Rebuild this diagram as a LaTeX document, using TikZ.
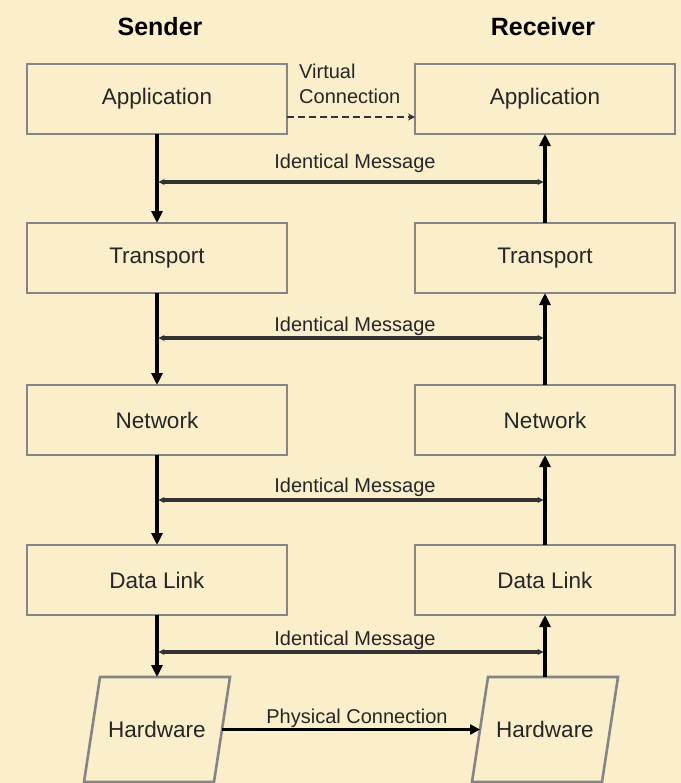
\documentclass[tikz,border=0pt]{standalone}
\usepackage{fontspec}
\setmainfont{Liberation Sans}
\usetikzlibrary{arrows.meta}
\definecolor{parch}{HTML}{FBEECB}
\definecolor{boxline}{HTML}{858585}
\definecolor{txt}{HTML}{262626}
\definecolor{msgline}{HTML}{333333}

\begin{document}
\begin{tikzpicture}[x=1bp,y=-1bp,
  layer/.style={draw=boxline, line width=2.6bp, minimum width=260bp, minimum height=70bp,
    inner sep=0pt, outer sep=0pt, font=\fontsize{22.5bp}{27bp}\selectfont, text=txt},
  hwbox/.style={minimum width=130bp, minimum height=105bp, inner sep=0pt, outer sep=0pt,
    font=\fontsize{22.5bp}{27bp}\selectfont, text=txt},
  hwedge/.style={draw=boxline, line width=2.6bp, line join=miter},
  flow/.style={line width=3.4bp, draw=black, -{Triangle[length=12bp,width=11bp]}},
  msg/.style={draw=msgline, line width=3.2bp,
    {Stealth[length=6bp,width=6bp]}-{Stealth[length=6bp,width=6bp]}},
  virt/.style={draw=msgline, line width=2.6bp, dash pattern=on 7bp off 4bp,
    -{Stealth[length=7bp,width=7bp]}},
  phys/.style={draw=black, line width=3.2bp, -{Triangle[length=10bp,width=10bp]}},
  lbl/.style={font=\fontsize{20bp}{25bp}\selectfont, text=txt, inner sep=0pt},
  head/.style={font=\bfseries\fontsize{25bp}{30bp}\selectfont, text=black, inner sep=0pt}]

% page and background
\useasboundingbox (0,0) rectangle (681,783);
\fill[parch] (0,0) rectangle (681,783);

% column headings
\node[head] (hs) at (160,27) {Sender};
\node[head] (hr) at (543,27) {Receiver};

% sender stack
\node[layer] (sApp) at (157,99)  {Application};
\node[layer] (sTr)  at (157,258) {Transport};
\node[layer] (sNet) at (157,420) {Network};
\node[layer] (sDL)  at (157,580) {Data Link};
\node[hwbox] (sHw)  at (157,729.5) {Hardware};

% receiver stack
\node[layer] (rApp) at (545,99)  {Application};
\node[layer] (rTr)  at (545,258) {Transport};
\node[layer] (rNet) at (545,420) {Network};
\node[layer] (rDL)  at (545,580) {Data Link};
\node[hwbox] (rHw)  at (545,729.5) {Hardware};

% slanted hardware outlines
\foreach \h in {sHw,rHw}{
  \draw[hwedge] ([xshift=8bp]\h.north west) -- ([xshift=8bp]\h.north east)
    -- ([xshift=-8bp]\h.south east) -- ([xshift=-8bp]\h.south west) -- cycle;
}

% data flowing down the sender stack
\draw[flow] (sApp.south) -- (sTr.north);
\draw[flow] (sTr.south)  -- (sNet.north);
\draw[flow] (sNet.south) -- (sDL.north);
\draw[flow] (sDL.south)  -- (sHw.north);

% data flowing up the receiver stack
\draw[flow] (rHw.north)  -- (rDL.south);
\draw[flow] (rDL.north)  -- (rNet.south);
\draw[flow] (rNet.north) -- (rTr.south);
\draw[flow] (rTr.north)  -- (rApp.south);

% peer layers exchange identical messages
\foreach \i/\y/\t in {1/182/163, 2/338/326, 3/500/487, 4/652/640}{
  \coordinate (m\i a) at (158.5,\y);
  \coordinate (m\i b) at (543.5,\y);
  \draw[msg] (m\i a) -- (m\i b);
  \node[lbl] (t\i) at (355,\t) {Identical Message};
}

% virtual connection between the applications
\draw[virt] ([yshift=-18bp]sApp.east) -- ([yshift=-18bp]rApp.west);
\node[lbl, anchor=west, align=left] (vc) at (299,84) {Virtual\\Connection};

% physical link between the hardware
\draw[phys] (sHw.east) -- (rHw.west);
\node[lbl] (pc) at (357,718) {Physical Connection};

\end{tikzpicture}
\end{document}
